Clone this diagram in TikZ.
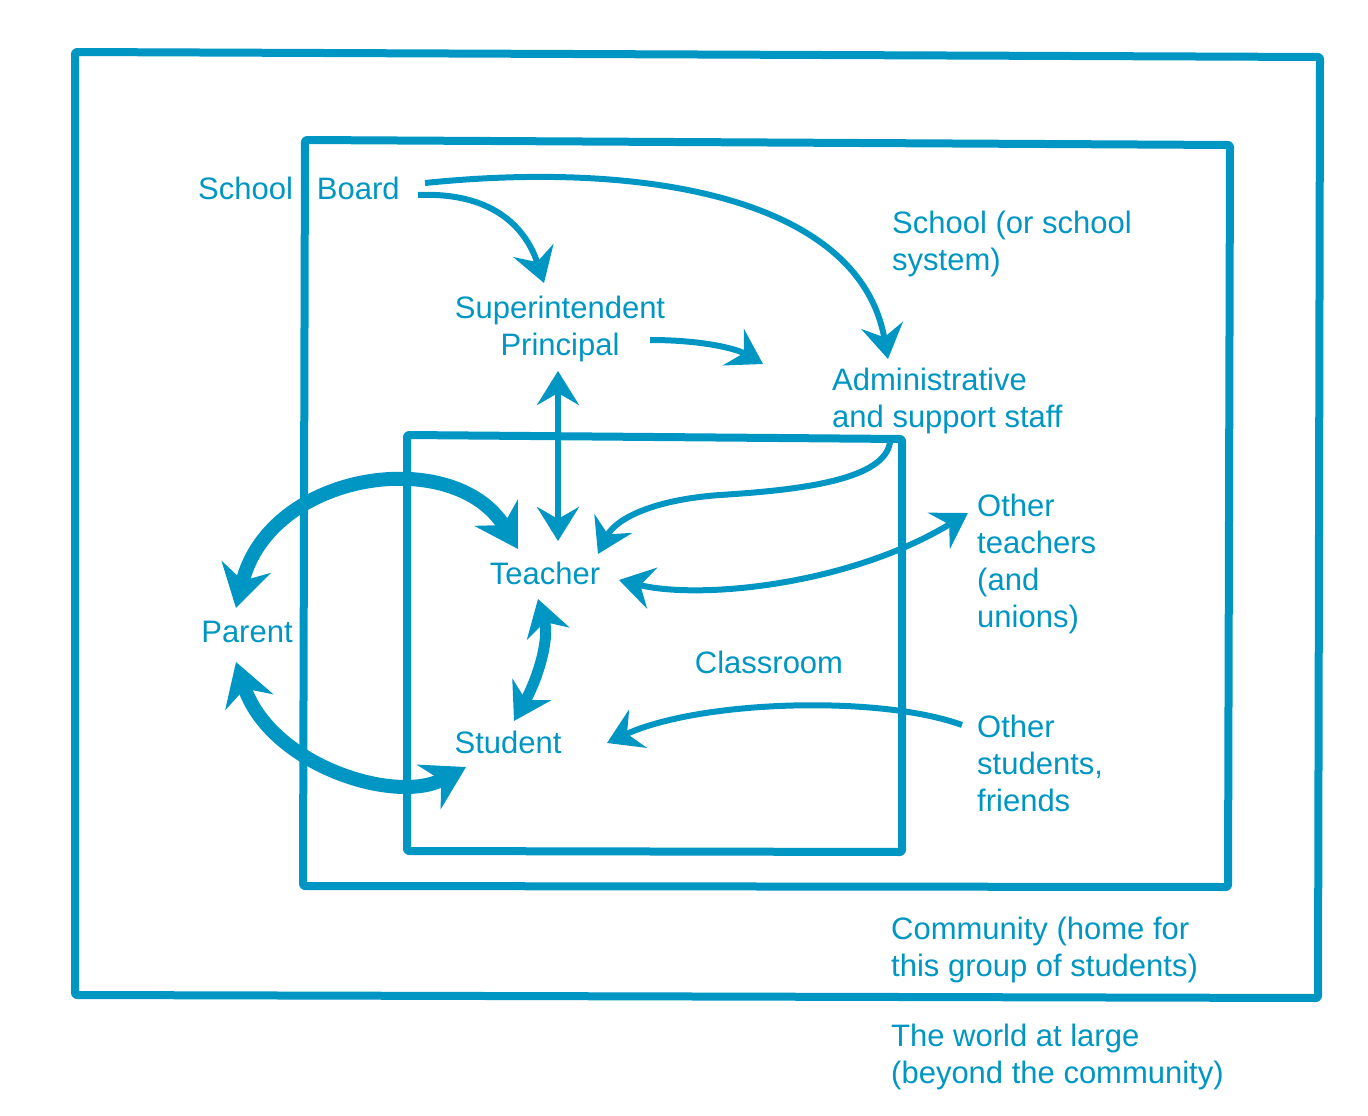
\documentclass[tikz,border=0pt]{standalone}
\usepackage{fontspec}
\setmainfont{Liberation Sans}
\usetikzlibrary{arrows.meta}
\definecolor{ink}{RGB}{0,150,196}
\tikzset{
  lbl/.style={inner sep=0pt, text=ink, font=\fontsize{31}{37}\selectfont},
  frame/.style={draw=ink, line width=8pt, line join=round, rounded corners=2pt},
  tipS/.tip={Stealth[length=34pt,width=42pt,inset=12pt]},
  tipM/.tip={Stealth[length=36pt,width=44pt,inset=12pt]},
  tipL/.tip={Stealth[length=42pt,width=50pt,inset=14pt]},
  thin/.style={draw=ink, line width=6pt, -tipS},
  thinboth/.style={draw=ink, line width=6pt, tipS-tipS},
  midboth/.style={draw=ink, line width=11pt, tipM-tipM},
  thickboth/.style={draw=ink, line width=14pt, tipL-tipL}
}
\begin{document}
\begin{tikzpicture}[x=1pt,y=-1pt]
\useasboundingbox (0,0) rectangle (1368,1116);
% frames
\draw[frame] (75,52) -- (1320,57) -- (1318,998) -- (75,995) -- cycle;
\draw[frame] (305,140) -- (1230,145) -- (1228,887) -- (303,886) -- cycle;
\draw[frame] (407,435) -- (902,439) -- (902,852) -- (407,851) -- cycle;
% labels
\node[lbl, anchor=base west] (board) at (198,199) {School\hspace{24pt}Board};
\node[lbl, anchor=north, align=center] (super) at (560,295.5) {Superintendent\\Principal};
\node[lbl, anchor=north west, align=left] (admin) at (832,367.5) {Administrative\\and support staff};
\node[lbl, anchor=north west, align=left] (school) at (892,210.5) {School (or school\\system)};
\node[lbl, anchor=base] (teacher) at (545,584) {Teacher};
\node[lbl, anchor=base] (parent) at (247,642) {Parent};
\node[lbl, anchor=base] (student) at (508,753) {Student};
\node[lbl, anchor=base] (classroom) at (769,673) {Classroom};
\node[lbl, anchor=north west, align=left] (othert) at (977,493.5) {Other\\teachers\\(and\\unions)};
\node[lbl, anchor=north west, align=left] (others) at (977,714.5) {Other\\students,\\friends};
\node[lbl, anchor=north west, align=left] (community) at (891,916.5) {Community (home for\\this group of students)};
\node[lbl, anchor=north west, align=left] (world) at (891,1023.5) {The world at large\\(beyond the community)};
% arrow end points
\coordinate (sbA) at (418,195);
\coordinate (sbB) at (425,183);
\coordinate (supIn) at (544,283);
\coordinate (admIn) at (888,359);
\coordinate (prOut) at (650,340);
\coordinate (prTip) at (763,364);
\coordinate (supLow) at (558,371);
\coordinate (teaTop) at (558,541);
\coordinate (admOut) at (890,442);
\coordinate (teaRight) at (598,554);
\coordinate (teaSide) at (619,580);
\coordinate (otIn) at (968,513);
\coordinate (teaLow) at (538,599);
\coordinate (stuTop) at (514,721);
\coordinate (parTop) at (236,608);
\coordinate (teaLeft) at (518,549);
\coordinate (parLow) at (236,662);
\coordinate (stuLeft) at (466,767);
\coordinate (osOut) at (962,725);
\coordinate (stuRight) at (607,743);
% connectors
\draw[thin] (sbA) .. controls (490,192) and (525,225) .. (supIn);
\draw[thin] (sbB) .. controls (650,160) and (860,200) .. (admIn);
\draw[thin] (prOut) .. controls (700,340) and (735,348) .. (prTip);
\draw[thinboth] (supLow) -- (teaTop);
\draw[thin] (admOut) .. controls (885,480) and (800,490) .. (720,495) .. controls (650,500) and (615,520) .. (teaRight);
\draw[thinboth] (teaSide) .. controls (700,600) and (850,585) .. (otIn);
\draw[midboth] (teaLow) .. controls (550,640) and (537,680) .. (stuTop);
\draw[thickboth] (parTop) .. controls (270,470) and (455,445) .. (teaLeft);
\draw[thickboth] (parLow) .. controls (270,765) and (395,805) .. (stuLeft);
\draw[thin] (osOut) .. controls (880,695) and (700,700) .. (stuRight);
\end{tikzpicture}
\end{document}
